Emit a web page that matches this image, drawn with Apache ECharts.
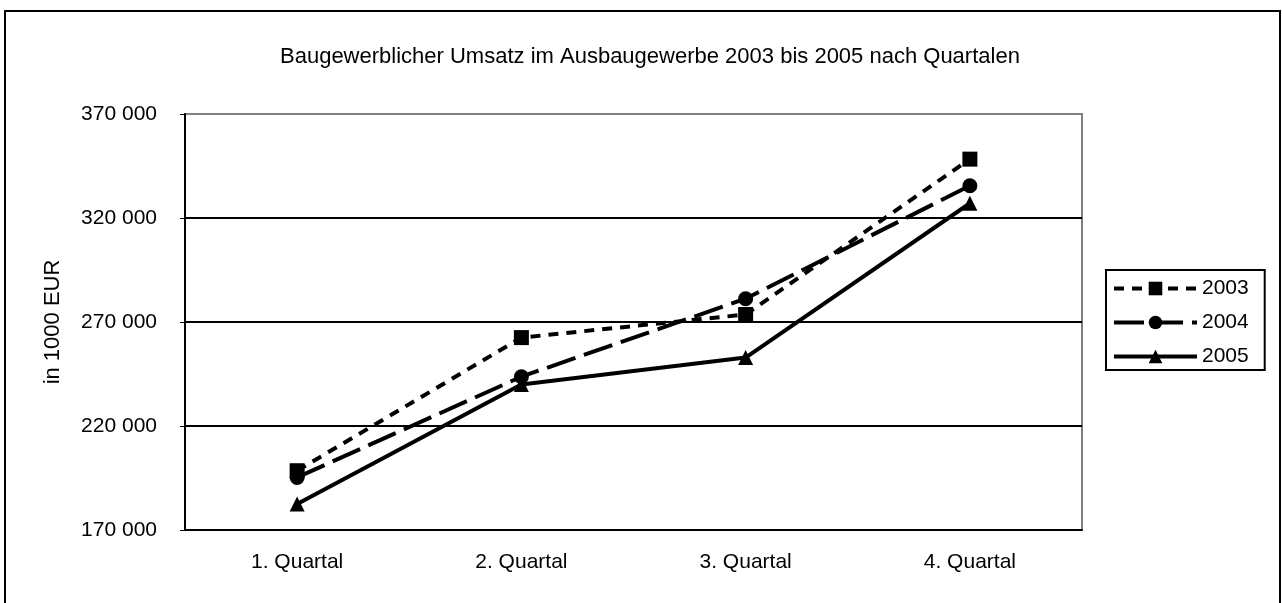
<!DOCTYPE html>
<html>
<head>
<meta charset="utf-8">
<script src="https://cdn.jsdelivr.net/npm/echarts@6/dist/echarts.min.js"></script>
<style>
  html, body { margin: 0; padding: 0; background: #fff; }
  #chart { width: 1282px; height: 603px; }
</style>
</head>
<body>
<div id="chart"></div>
<script>
const categories = ['1. Quartal', '2. Quartal', '3. Quartal', '4. Quartal']
const years = ['2003', '2004', '2005']
const values2003 = [198500, 262500, 273600, 348300]
const values2004 = [195300, 243700, 281200, 335500]
const values2005 = [182500, 240000, 252900, 327100]

const font = 'Liberation Sans, Arial, sans-serif'

const chartDom = document.getElementById('chart')
const myChart = echarts.init(chartDom)

function lineSeries(name, data, symbol, dash) {
  return {
    name,
    data,
    type: 'line',
    symbol,
    symbolSize: 15,
    color: '#000',
    itemStyle: { color: '#000' },
    lineStyle: { color: '#000', width: 4, type: dash, cap: 'butt' },
    animation: false
  }
}

let option = {
  backgroundColor: '#fff',
  textStyle: { fontFamily: font },
  graphic: [
    {
      type: 'rect',
      shape: { x: 5, y: 11, width: 1275, height: 600 },
      style: { fill: 'none', stroke: '#000', lineWidth: 2 },
      silent: true
    }
  ],
  title: {
    text: 'Baugewerblicher Umsatz im Ausbaugewerbe 2003 bis 2005 nach Quartalen',
    left: 275,
    top: 41,
    textStyle: { fontFamily: font, fontSize: 22, fontWeight: 'normal', color: '#000' }
  },
  grid: {
    left: 185,
    top: 114,
    right: 200,
    bottom: 73,
    show: true,
    borderColor: '#808080',
    borderWidth: 2
  },
  legend: {
    orient: 'vertical',
    left: 1106,
    top: 270,
    data: years,
    itemWidth: 83,
    itemHeight: 17,
    itemGap: 13,
    padding: [8, 16, 3, 6],
    borderColor: '#000',
    borderWidth: 2,
    lineStyle: { width: 4 },
    textStyle: { fontFamily: font, fontSize: 21, color: '#000' }
  },
  xAxis: {
    type: 'category',
    data: categories,
    boundaryGap: true,
    axisLine: { lineStyle: { color: '#000', width: 2 } },
    axisTick: { length: 6, lineStyle: { color: '#000', width: 1 } },
    axisLabel: { margin: 22, fontFamily: font, fontSize: 21, color: '#000' }
  },
  yAxis: {
    type: 'value',
    min: 170000,
    max: 370000,
    interval: 50000,
    name: 'in 1000 EUR',
    nameLocation: 'middle',
    nameGap: 121,
    nameTextStyle: { fontFamily: font, fontSize: 22, color: '#000' },
    axisLine: { show: true, lineStyle: { color: '#000', width: 2 } },
    axisTick: { show: true, length: 5, lineStyle: { color: '#000', width: 1 } },
    axisLabel: {
      margin: 28,
      fontFamily: font,
      fontSize: 21,
      color: '#000',
      formatter: v => (v / 1000) + ' 000'
    },
    splitLine: {
      lineStyle: { color: ['#000', '#000', '#000', '#000', '#808080'], width: 2 }
    }
  },
  series: [
    lineSeries('2003', values2003, 'rect', [10, 8]),
    lineSeries('2004', values2004, 'circle', [30, 9]),
    lineSeries('2005', values2005, 'triangle', 'solid')
  ]
}
option && myChart.setOption(option)
</script>
</body>
</html>
